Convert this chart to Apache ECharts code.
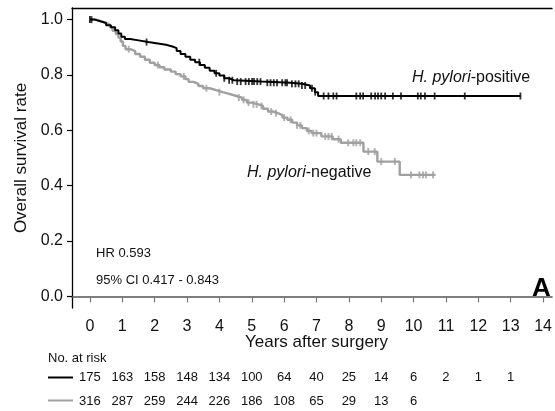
<!DOCTYPE html>
<html><head><meta charset="utf-8">
<script src="https://cdn.jsdelivr.net/npm/echarts@6/dist/echarts.min.js"></script>
<style>html,body{margin:0;padding:0;background:#fff}#c{width:555px;height:411px}</style>
</head><body><div id="c"></div>
<script>
// ---- data ----
const posT = [0, 0.15, 0.35, 0.5, 0.65, 0.78, 0.88, 0.97, 1.08, 1.25, 1.5, 1.8, 2.1, 2.35, 2.55, 2.68, 2.8, 2.95, 3.1, 3.25, 3.4, 3.55, 3.7, 3.85, 4.0, 4.15, 4.3, 4.45, 5.3, 6.2, 6.55, 6.8, 6.95, 7.05];
const posS = [1.0, 0.993, 0.988, 0.98, 0.972, 0.962, 0.95, 0.938, 0.93, 0.925, 0.919, 0.914, 0.909, 0.903, 0.897, 0.887, 0.876, 0.866, 0.855, 0.846, 0.836, 0.826, 0.815, 0.806, 0.798, 0.788, 0.781, 0.776, 0.772, 0.768, 0.762, 0.752, 0.738, 0.724];
const posEnd = 13.3;
const posCensor = [0, 0.05, 1.75, 3.38, 3.9, 4.15, 4.3, 4.4, 4.55, 4.66, 4.81, 4.91, 5.01, 5.07, 5.17, 5.27, 5.48, 5.58, 5.68, 5.78, 5.94, 6.04, 6.09, 6.24, 6.35, 6.45, 6.55, 6.65, 6.86, 6.96, 7.22, 7.37, 7.52, 7.62, 8.23, 8.35, 8.44, 8.69, 8.81, 8.9, 9.0, 9.12, 9.36, 9.61, 10.13, 10.22, 10.35, 10.65, 11.58, 13.3];

const negT = [0, 0.2, 0.35, 0.5, 0.62, 0.7, 0.8, 0.88, 0.95, 1.02, 1.1, 1.25, 1.4, 1.55, 1.7, 1.85, 2.0, 2.15, 2.3, 2.5, 2.65, 2.8, 2.95, 3.05, 3.2, 3.35, 3.5, 3.7, 3.9, 4.1, 4.3, 4.5, 4.7, 4.85, 5.0, 5.2, 5.35, 5.5, 5.65, 5.8, 5.95, 6.1, 6.25, 6.4, 6.55, 6.7, 6.85, 7.15, 7.5, 7.75, 8.45, 8.88, 9.57];
const negS = [1.0, 0.994, 0.988, 0.981, 0.972, 0.96, 0.948, 0.935, 0.921, 0.905, 0.893, 0.886, 0.876, 0.866, 0.855, 0.844, 0.836, 0.828, 0.82, 0.812, 0.803, 0.795, 0.785, 0.775, 0.768, 0.76, 0.752, 0.745, 0.738, 0.732, 0.725, 0.718, 0.71, 0.7, 0.694, 0.688, 0.678, 0.668, 0.662, 0.655, 0.646, 0.638, 0.628, 0.618, 0.608, 0.598, 0.59, 0.578, 0.568, 0.555, 0.523, 0.487, 0.439];
const negEnd = 10.68;
const negCensor = [1.2, 2.1, 2.9, 3.6, 4.0, 4.6, 4.75, 4.9, 5.05, 5.15, 5.3, 5.6, 5.75, 6.0, 6.2, 6.4, 6.5, 6.76, 6.9, 7.0, 7.27, 7.37, 7.47, 7.68, 7.98, 8.14, 8.23, 8.35, 8.6, 8.8, 9.0, 9.42, 9.92, 10.18, 10.29, 10.38, 10.6];

const xTicks = [0,1,2,3,4,5,6,7,8,9,10,11,12,13,14];
const yTicks = [0, 0.2, 0.4, 0.6, 0.8, 1.0];
const yTickLabels = ['0.0','0.2','0.4','0.6','0.8','1.0'];
const riskPos = [175,163,158,148,134,100,64,40,25,14,6,2,1,1];
const riskNeg = [316,287,259,244,226,186,108,65,29,13,6];

// ---- helpers ----
function steps(T,S,end){ const d=T.map((t,i)=>[t,S[i]]); d.push([end,S[S.length-1]]); return d; }
function survAt(T,S,t){ let v=S[0]; for(let i=0;i<T.length;i++){ if(T[i]<=t) v=S[i]; else break; } return v; }
function hasFont(f){ const c=document.createElement('canvas').getContext('2d'); const s='No. at risk 0123456789'; c.font='20px monospace'; const a=c.measureText(s).width; c.font='20px "'+f+'", monospace'; const b=c.measureText(s).width; return Math.abs(a-b)>0.5; }

const FF = '"Liberation Sans", Arial, sans-serif';
const narrowOK = hasFont('Liberation Sans Narrow');
const NF = narrowOK ? '"Liberation Sans Narrow", ' + FF : FF;
const NS = narrowOK ? 15 : 13;

const chart = echarts.init(document.getElementById('c'), null, {renderer:'canvas'});
const GRAY = '#a0a0a0';
chart.setOption({
  animation:false,
  backgroundColor:'#fff',
  grid:{left:72, right:0, top:8, bottom:103},
  xAxis:[{
    type:'value', min:-0.553, max:14.276,
    axisLine:{show:true, lineStyle:{color:'#555', width:1.5}},
    axisTick:{show:true, customValues:xTicks, length:6, lineStyle:{color:'#777', width:1.2}},
    axisLabel:{show:true, customValues:xTicks, fontSize:16, color:'#111', fontFamily:FF, margin:11},
    splitLine:{show:false}
  },{
    type:'value', position:'top', min:-0.553, max:14.276,
    axisLine:{show:true, onZero:false, lineStyle:{color:'#000', width:1.3}},
    axisTick:{show:false}, axisLabel:{show:false}, splitLine:{show:false}
  }],
  yAxis:{
    type:'value', min:-0.042, max:1.042,
    name:'Overall survival rate', nameLocation:'middle', nameGap:40,
    nameTextStyle:{fontSize:17, color:'#111', fontFamily:FF},
    axisLine:{show:true, onZero:false, lineStyle:{color:'#000', width:1.3}},
    axisTick:{show:true, customValues:yTicks, length:5, lineStyle:{color:'#000', width:1.2}},
    axisLabel:{show:true, customValues:yTicks, fontSize:16, color:'#111', fontFamily:FF, margin:9,
      formatter:v=>{ const i=yTicks.findIndex(t=>Math.abs(t-v)<1e-6); return i>=0?yTickLabels[i]:''; }},
    splitLine:{show:false}
  },
  series:[
    {type:'line', step:'end', data:steps(negT,negS,negEnd), showSymbol:false, lineStyle:{color:GRAY, width:2.4}, z:2},
    {type:'scatter', data:negCensor.map(t=>[t, survAt(negT,negS,t)]), symbol:'rect', symbolSize:[2,7], itemStyle:{color:GRAY}, z:2},
    {type:'line', step:'end', data:steps(posT,posS,posEnd), showSymbol:false, lineStyle:{color:'#000', width:2}, z:3},
    {type:'scatter', data:posCensor.map(t=>[t, survAt(posT,posS,t)]), symbol:'rect', symbolSize:[1.8,7], itemStyle:{color:'#000'}, z:3}
  ]
});

// ---- annotations and risk table ----
const px = v => chart.convertToPixel({xAxisIndex:0}, v);
const g = [];
g.push({type:'text', style:{text:'{i|H. pylori}{n|-positive}', x:412, y:78, textVerticalAlign:'middle', fill:'#111',
  rich:{i:{fontStyle:'italic', fontSize:16, fontFamily:FF, fill:'#111'}, n:{fontSize:16, fontFamily:FF, fill:'#111'}}}});
g.push({type:'text', style:{text:'{i|H. pylori}{n|-negative}', x:247, y:173, textVerticalAlign:'middle', fill:'#111',
  rich:{i:{fontStyle:'italic', fontSize:16, fontFamily:FF, fill:'#111'}, n:{fontSize:16, fontFamily:FF, fill:'#111'}}}});
g.push({type:'text', style:{text:'HR 0.593', x:96, y:253, textVerticalAlign:'middle', font:NS+'px '+NF, fill:'#111'}});
g.push({type:'text', style:{text:'95% CI 0.417 - 0.843', x:96, y:280, textVerticalAlign:'middle', font:NS+'px '+NF, fill:'#111'}});
g.push({type:'text', style:{text:'A', x:532, y:289, textVerticalAlign:'middle', font:'bold 26px '+FF, fill:'#000'}});
g.push({type:'text', style:{text:'Years after surgery', x:px(7), y:342, textAlign:'center', textVerticalAlign:'middle', font:'17px '+FF, fill:'#111'}});
g.push({type:'text', style:{text:'No. at risk', x:48, y:358, textVerticalAlign:'middle', font:NS+'px '+NF, fill:'#111'}});
g.push({type:'line', shape:{x1:48, y1:377.5, x2:73, y2:377.5}, style:{stroke:'#000', lineWidth:2}});
g.push({type:'line', shape:{x1:48, y1:400.5, x2:73, y2:400.5}, style:{stroke:GRAY, lineWidth:2}});
riskPos.forEach((n,i)=>g.push({type:'text', style:{text:String(n), x:px(xTicks[i]), y:377, textAlign:'center', textVerticalAlign:'middle', font:NS+'px '+NF, fill:'#111'}}));
riskNeg.forEach((n,i)=>g.push({type:'text', style:{text:String(n), x:px(xTicks[i]), y:401, textAlign:'center', textVerticalAlign:'middle', font:NS+'px '+NF, fill:'#111'}}));
chart.setOption({graphic:g});
</script>
</body></html>
